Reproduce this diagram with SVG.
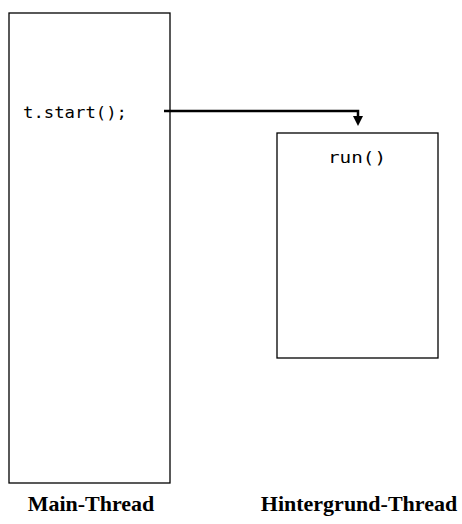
<svg xmlns="http://www.w3.org/2000/svg" width="462" height="524" viewBox="0 0 462 524">
<style>
.box{fill:#fff;stroke:#000;stroke-width:1.3}
.code{font-family:"DejaVu Sans Mono","Liberation Mono",monospace;font-size:16.5px;fill:#000}
.lbl{font-family:"Liberation Serif",serif;font-weight:bold;font-size:22px;fill:#000;text-anchor:middle}
.conn{fill:none;stroke:#000;stroke-width:2.5}
</style>
<defs>
<marker id="ah" markerWidth="10" markerHeight="10" refX="5" refY="5" orient="auto" markerUnits="userSpaceOnUse" viewBox="0 0 10 10">
<path d="M0,0 L10,5 L0,10 z" fill="#000"/>
</marker>
</defs>
<rect width="462" height="524" fill="#fff"/>
<g id="main-thread">
<rect class="box" x="9" y="13" width="161" height="470"/>
<text class="code" x="23" y="118" textLength="104" lengthAdjust="spacingAndGlyphs">t.start();</text>
<text class="lbl" x="91" y="511">Main-Thread</text>
</g>
<g id="hintergrund-thread">
<rect class="box" x="277" y="133" width="161" height="225"/>
<text class="code" x="328" y="163" textLength="58" lengthAdjust="spacingAndGlyphs">run()</text>
<text class="lbl" x="359" y="511">Hintergrund-Thread</text>
</g>
<g id="connectors">
<polyline class="conn" points="164,111 358,111 358,121" marker-end="url(#ah)"/>
</g>
</svg>
